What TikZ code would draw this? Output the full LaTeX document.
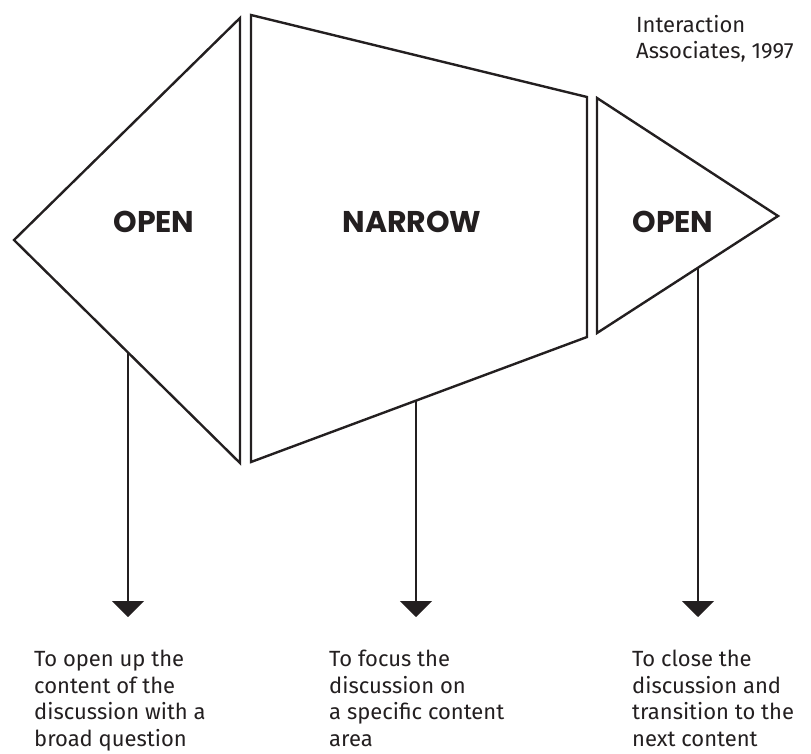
\documentclass[tikz,border=0pt]{standalone}
\usepackage{fontspec}
\setmainfont{Fira Sans}
\newfontfamily\headfont{Poppins}
\usetikzlibrary{positioning,arrows.meta,calc}
\definecolor{ink}{HTML}{231F20}

\begin{document}
\begin{tikzpicture}[
  x=1pt, y=-1pt,
  >={Triangle[width=32pt,length=16pt]},
  outline/.style={draw=ink, line width=2.4pt},
  drop/.style={->, draw=ink, line width=2.2pt},
  phase/.style={font=\headfont\bfseries\fontsize{30}{32}\selectfont, text=ink},
  note/.style={anchor=north west, inner sep=0pt, align=left, text=ink, font=\fontsize{22}{26.5}\selectfont}
]
\useasboundingbox (0,0) rectangle (811,753);

\draw[outline] (14,240) -- (240,18) -- (240,463) -- cycle;
\draw[outline] (251,15) -- (587,97) -- (587,337) -- (251,462) -- cycle;
\draw[outline] (597,98) -- (778,216) -- (597,333) -- cycle;

\node[phase] (open1) at (154,222) {OPEN};
\node[phase] (narrow) at (412,222) {NARROW};
\node[phase] (open2) at (673,222) {OPEN};

\node[note] (source) at (636,15) {Interaction\\Associates, 1997};

\coordinate (foot1) at (128,352.5);
\coordinate (foot2) at (416,400.6);
\coordinate (foot3) at (698,267.7);
\coordinate (tip1) at (128,617);
\coordinate (tip2) at (416,617);
\coordinate (tip3) at (698,617);

\draw[drop] (foot1) -- (tip1);
\draw[drop] (foot2) -- (tip2);
\draw[drop] (foot3) -- (tip3);

\node[note] (text1) at (34,650) {To open up the\\content of the\\discussion with a\\broad question};
\node[note] (text2) at (329,650) {To focus the\\discussion on\\a specific content\\area};
\node[note] (text3) at (632,650) {To close the\\discussion and\\transition to the\\next content};

\end{tikzpicture}
\end{document}
